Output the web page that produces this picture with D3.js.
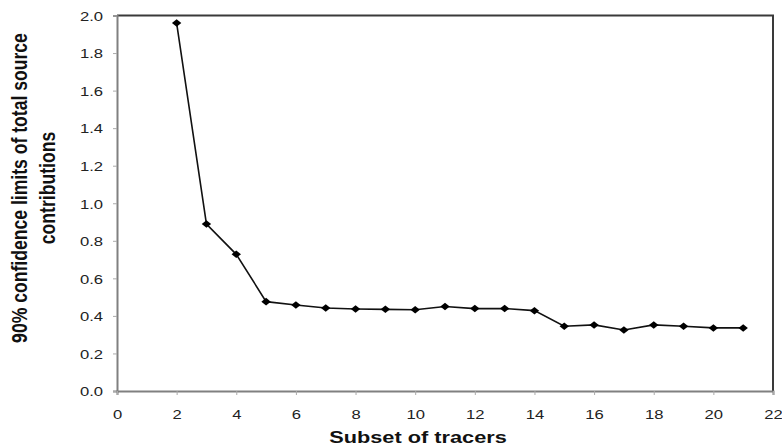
<!DOCTYPE html>
<html>
<head>
<meta charset="utf-8">
<script src="https://cdn.jsdelivr.net/npm/d3@7"></script>
<style>
  body { margin: 0; background: #fff; }
  text { font-family: "Liberation Sans", Arial, sans-serif; }
</style>
</head>
<body>
<svg id="chart"></svg>
<script>
// tracer subset sizes and 90% confidence limits
const subsets = [2, 3, 4, 5, 6, 7, 8, 9, 10, 11, 12, 13, 14, 15, 16, 17, 18, 19, 20, 21];
const limits = [1.96, 0.889, 0.728, 0.476, 0.458, 0.442, 0.437, 0.435, 0.433, 0.45, 0.439, 0.439, 0.428, 0.345, 0.352, 0.325, 0.352, 0.345, 0.336, 0.336];
const xTicks = [0, 2, 4, 6, 8, 10, 12, 14, 16, 18, 20, 22];
const yTicks = [0, 0.2, 0.4, 0.6, 0.8, 1.0, 1.2, 1.4, 1.6, 1.8, 2.0];

const width = 782;
const height = 447;
const margin = ({ top: 15.5, right: 9, bottom: 56, left: 117 });
const stretch = 1.25; // the picture's text is wider than it is tall

const svg = d3.select("#chart")
    .attr("width", width)
    .attr("height", height);

const xScale = d3.scaleLinear()
    .domain([0, 22])
    .range([margin.left, width - margin.right]);

const yScale = d3.scaleLinear()
    .domain([0, 2])
    .range([height - margin.bottom, margin.top]);

const data = subsets.map((s, i) => ({ x: s, y: limits[i] }));

// top and right frame of the plot area
svg.append("path")
    .attr("d", `M${xScale(0)},${yScale(2)}H${xScale(22)}V${yScale(0)}`)
    .attr("fill", "none")
    .attr("stroke", "#3a3a3a")
    .attr("stroke-width", 2);

const yAxis = g => g
    .attr("transform", `translate(${margin.left},0)`)
    .call(d3.axisLeft(yScale).tickValues(yTicks).tickFormat(d3.format(".1f")).tickSize(4))
    .call(g => g.select(".domain").attr("stroke", "#808080").attr("stroke-width", 2))
    .call(g => g.selectAll(".tick line").attr("stroke", "#aaa"))
    .call(g => g.selectAll(".tick text")
        .attr("font-size", 13.3)
        .attr("fill", "#222")
        .attr("x", -14 / stretch)
        .attr("dy", "0.36em")
        .attr("transform", `scale(${stretch},1)`));

const xAxis = g => g
    .attr("transform", `translate(0,${yScale(0)})`)
    .call(d3.axisBottom(xScale).tickValues(xTicks).tickSize(4))
    .call(g => g.select(".domain").attr("stroke", "#808080").attr("stroke-width", 2))
    .call(g => g.selectAll(".tick line").attr("stroke", "#aaa"))
    .call(g => g.selectAll(".tick text")
        .attr("font-size", 13.3)
        .attr("fill", "#222")
        .attr("y", 28)
        .attr("dy", 0)
        .attr("transform", `scale(${stretch},1)`));

svg.append("g").call(yAxis);
svg.append("g").call(xAxis);

const line = d3.line()
    .x(d => xScale(d.x))
    .y(d => yScale(d.y));

svg.append("path")
    .datum(data)
    .attr("fill", "none")
    .attr("stroke", "#111")
    .attr("stroke-width", 1.6)
    .attr("d", line);

svg.append("g")
    .selectAll("path")
    .data(data)
    .enter()
    .append("path")
    .attr("transform", d => `translate(${xScale(d.x)},${yScale(d.y)}) scale(${stretch},1)`)
    .attr("d", d3.symbol(d3.symbolDiamond2, 36))
    .attr("fill", "#000");

// axis titles
svg.append("text")
    .attr("transform", `translate(418,442.5) scale(${stretch},1)`)
    .attr("text-anchor", "middle")
    .attr("font-size", 17.4)
    .attr("font-weight", "bold")
    .attr("fill", "#111")
    .text("Subset of tracers");

const yTitle = svg.append("text")
    .attr("transform", `translate(27,188) scale(${stretch},1) rotate(-90)`)
    .attr("text-anchor", "middle")
    .attr("font-size", 17.6)
    .attr("font-weight", "bold")
    .attr("fill", "#111");
yTitle.append("tspan").attr("x", 0).attr("dy", 0).text("90% confidence limits of total source");
yTitle.append("tspan").attr("x", 0).attr("dy", 22.4).text("contributions");
</script>
</body>
</html>
